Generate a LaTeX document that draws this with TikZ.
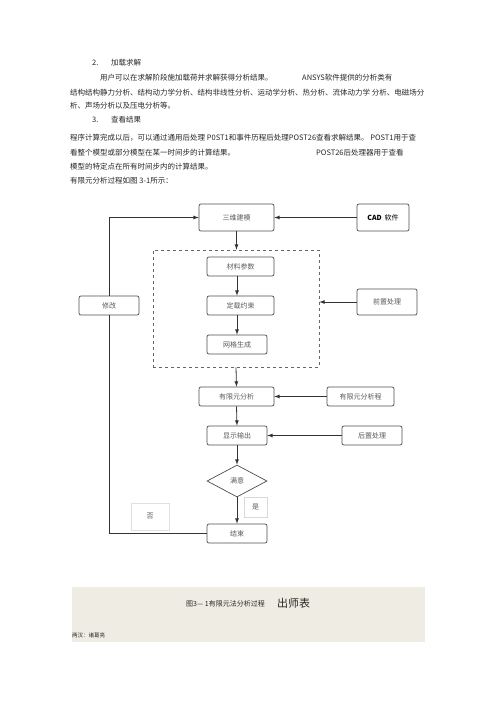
\documentclass[tikz,border=0pt]{standalone}
\usepackage{fontspec}
\setmainfont{Noto Sans CJK SC}
\usetikzlibrary{shapes.geometric}
\definecolor{band}{RGB}{239,237,227}
\begin{document}
\begin{tikzpicture}[x=1pt, y=-1pt, >=latex,
        box/.style={draw=black!70, rounded corners=2pt, line width=0.7pt, inner sep=0pt, font=\fontsize{7}{8}\selectfont, text=black!65},
        txt/.style={anchor=west, inner sep=0pt, font=\fontsize{7.5}{8}\selectfont, text=black!85},
        link/.style={draw=black!80, line width=0.8pt}]
    \useasboundingbox (0,0) rectangle (500,707);
    \node [txt] (num2) at (92, 63){2.};
    \node [txt] (head2) at (111, 63){加载求解};
    \node [txt] (para1a) at (100, 78){用户可以在求解阶段施加载荷并求解获得分析结果。};
    \node [txt] (para1b) at (302, 78){ANSYS软件提供的分析类有};
    \node [txt] (para1c) at (70, 93){结构结构静力分析、结构动力学分析、结构非线性分析、运动学分析、热分析、流体动力学 分析、电磁场分};
    \node [txt] (para1d) at (70, 106){析、声场分析以及压电分析等。};
    \node [txt] (num3) at (92, 120){3.};
    \node [txt] (head3) at (111, 120){查看结果};
    \node [txt] (para2a) at (70, 138){程序计算完成以后，可以通过通用后处理 P0ST1和事件历程后处理POST26查看求解结果。 POST1用于查};
    \node [txt] (para2b) at (70, 153){看整个模型或部分模型在某一时间步的计算结果。};
    \node [txt] (para2c) at (316, 153){POST26后处理器用于查看};
    \node [txt] (para2d) at (70, 167){模型的特定点在所有时间步内的计算结果。};
    \node [txt] (para2e) at (70, 181){有限元分析过程如图 3-1所示：};

    \node [box, minimum width=75, minimum height=27] (sanwei) at (236.5, 217.5){三维建模};
    \node [box, minimum width=52, minimum height=27, text=black] (cad) at (383, 217.5){\textbf{CAD}\, 软件};
    \node [draw=black!60, dashed, line width=0.7pt, minimum width=166, minimum height=117] (pre) at (236, 308.5){};
    \node [box, minimum width=67, minimum height=19] (cailiao) at (240.5, 266.5){材料参数};
    \node [box, minimum width=67, minimum height=19] (dingzai) at (240.5, 305.5){定载约束};
    \node [box, minimum width=60, minimum height=19] (wangge) at (237, 344.5){网格生成};
    \node [box, minimum width=60, minimum height=26] (qianzhi) at (387, 302){前置处理};
    \node [box, minimum width=60, minimum height=19] (xiugai) at (109, 305.5){修改};
    \node [box, minimum width=75, minimum height=19] (fenxi) at (236.5, 396.5){有限元分析};
    \node [box, minimum width=67, minimum height=19] (chengxu) at (360.5, 396.5){有限元分析程};
    \node [box, minimum width=60, minimum height=19] (xianshi) at (237, 435.5){显示输出};
    \node [box, minimum width=60, minimum height=19] (houzhi) at (372, 435.5){后置处理};
    \node [box, diamond, rounded corners=0pt, minimum width=60, minimum height=32] (manyi) at (237, 481){满意};
    \node [box, draw=black!15, rounded corners=0pt, minimum width=23, minimum height=20] (shi) at (255.5, 507){是};
    \node [box, draw=black!12, rounded corners=0pt, minimum width=38, minimum height=27] (fou) at (150, 516.5){否};
    \node [box, minimum width=60, minimum height=19] (jieshu) at (237, 533.5){结束};

    \draw [link, ->] (cad) -- (sanwei);
    \draw [link, ->] (sanwei.south) -- (sanwei.south |- pre.north);
    \draw [link, ->] (wangge.north |- cailiao.south) -- (wangge.north |- dingzai.north);
    \draw [link, ->] (wangge.north |- dingzai.south) -- (wangge.north);
    \draw [link, ->] (qianzhi.west) -- (pre.east |- qianzhi.west);
    \draw [link, ->] (pre.south) -- (fenxi.north);
    \draw [link, ->] (chengxu.west) -- (fenxi.east);
    \draw [link, ->] (fenxi.south) -- (xianshi.north);
    \draw [link, ->] (houzhi.west) -- (xianshi.east);
    \draw [link, ->] (xianshi.south) -- (manyi.north);
    \draw [link, ->] (manyi.south) -- (jieshu.north);
    \draw [link] (jieshu.west) -| (xiugai.south);
    \draw [link, ->] (xiugai.north) |- (sanwei.west);

    \fill [band] (72, 587) rectangle (425, 642);
    \node [txt, font=\fontsize{7}{7}\selectfont] (caption) at (186, 604){图3— 1有限元法分析过程};
    \node [txt, font=\fontsize{11}{12}\selectfont] (title) at (277, 603){出师表};
    \node [txt, font=\fontsize{5.5}{6}\selectfont] (author) at (72, 635){两汉：诸葛亮};
\end{tikzpicture}
\end{document}
